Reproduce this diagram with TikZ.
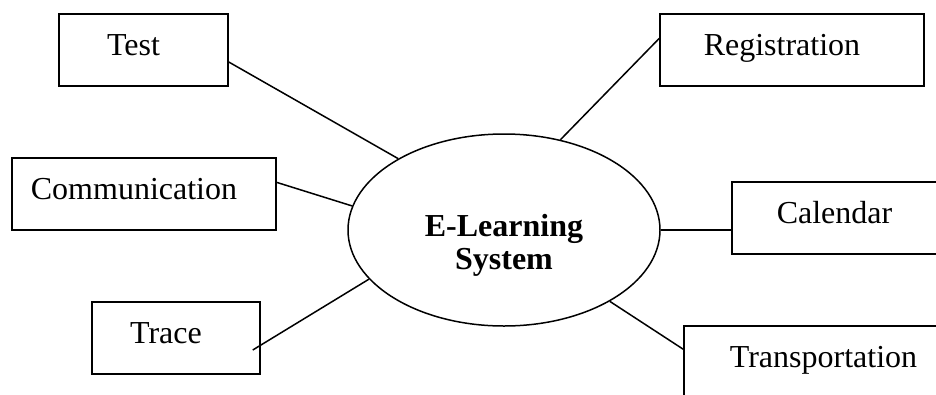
\documentclass[tikz,border=0pt]{standalone}
\usepackage{fontspec}
\setmainfont{Liberation Serif}
\usetikzlibrary{shapes.geometric}
\begin{document}
\begin{tikzpicture}[x=1pt,y=-1pt,line width=1.5pt]
    \tikzstyle{box}=[draw, rectangle, minimum height=72pt, inner sep=0pt]
    \tikzstyle{txt}=[font=\fontsize{32}{33}\selectfont, text height=22pt, text depth=8pt, xshift=-10pt, yshift=2pt]
    \tikzstyle{systxt}=[font=\fontsize{32}{33}\selectfont\bfseries, align=center, yshift=-15pt]
    \useasboundingbox (0,0) rectangle (936,394);
    \clip (0,0) rectangle (936,394);
    % the system in the middle
    \node[draw, ellipse, minimum width=312pt, minimum height=192pt, inner sep=0pt,
      label={[systxt]center:{E-Learning\\System}}] (sys) at (504,230) {};
    % left side
    \node[box, minimum width=169pt, label={[txt]center:Test}] (test) at (143.5,50) {};
    \node[box, minimum width=264pt, label={[txt]center:Communication}] (comm) at (144,194) {};
    \node[box, minimum width=168pt, label={[txt]center:Trace}] (trace) at (176,338) {};
    % right side
    \node[box, minimum width=264pt, label={[txt]center:Registration}] (reg) at (792,50) {};
    \node[box, minimum width=225pt, label={[txt]center:Calendar}] (cal) at (844.5,218) {};
    \node[box, minimum width=299pt, label={[txt]center:Transportation}] (trans) at (833.5,362) {};
    % links
    \draw (test.-8) -- (sys.146);
    \draw (comm.5) -- (sys.171);
    \draw ([shift={(-8pt,-12pt)}]trace.east) -- (sys.200);
    \draw (sys.58) -- (reg.175);
    \draw (sys.east) -- (sys.east -| cal.west);
    \draw (sys.-34) -- ([yshift=-24pt]trans.north west);
\end{tikzpicture}
\end{document}
